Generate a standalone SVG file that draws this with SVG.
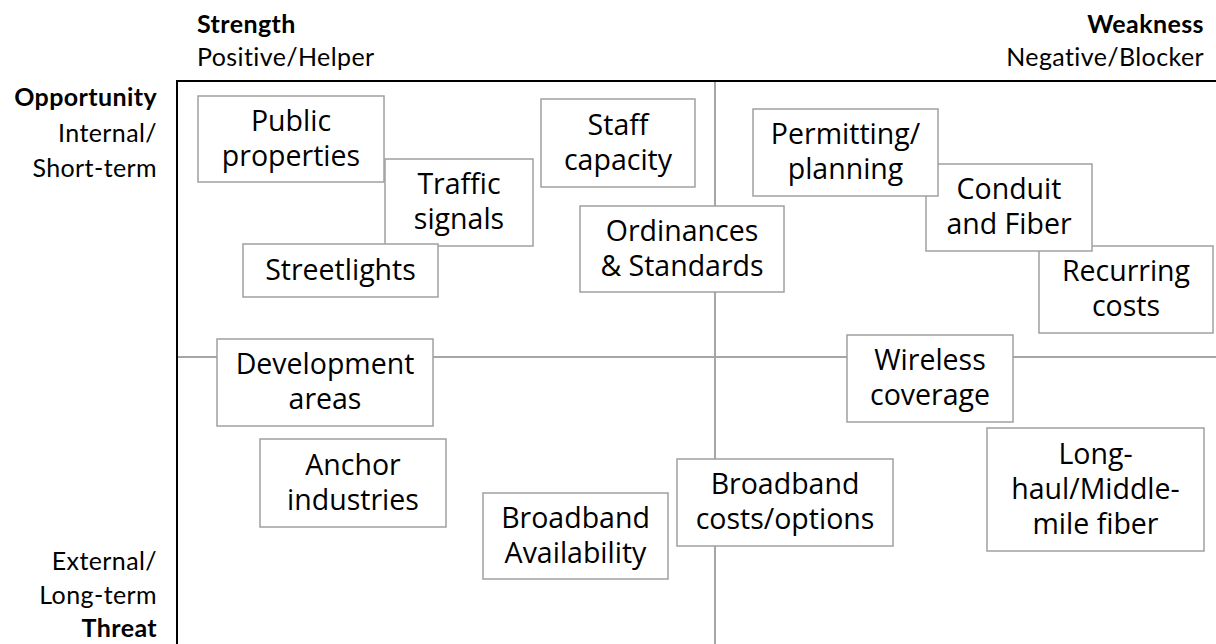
<svg xmlns="http://www.w3.org/2000/svg" width="1216" height="644" viewBox="0 0 1216 644">
<style>
.hdr{font-family:Lato,"Open Sans","Liberation Sans",sans-serif;font-size:25px;letter-spacing:0.4px;fill:#000}
.b{font-weight:bold}
.r{text-anchor:end}
.box{fill:#fff;stroke:#a0a0a0;stroke-width:1.5}
.t{font-family:"Open Sans","Liberation Sans",sans-serif;font-size:28.5px;fill:#000;text-anchor:middle}
.frame{stroke:#000;stroke-width:2;fill:none}
.axis{stroke:#a6a6a6;stroke-width:2;fill:none}
</style>
<rect width="1216" height="644" fill="#fff"/>
<g id="labels">
<text class="hdr b" x="197" y="33">Strength</text>
<text class="hdr" x="197" y="66">Positive/Helper</text>
<text class="hdr b r" x="1204" y="33">Weakness</text>
<text class="hdr r" x="1204" y="66">Negative/Blocker</text>
<text class="hdr b r" x="157" y="106">Opportunity</text>
<text class="hdr r" x="157" y="142">Internal/</text>
<text class="hdr r" x="157" y="177">Short-term</text>
<text class="hdr r" x="157" y="570">External/</text>
<text class="hdr r" x="157" y="604">Long-term</text>
<text class="hdr b r" x="157" y="637">Threat</text>
</g>
<g id="axes">
<line class="axis" x1="176" y1="357" x2="1216" y2="357"/>
<line class="axis" x1="715" y1="81" x2="715" y2="644"/>
<line class="frame" x1="176" y1="81" x2="1216" y2="81"/>
<line class="frame" x1="177" y1="80" x2="177" y2="644"/>
</g>
<g id="connectors"></g>
<g id="public-properties"><rect class="box" x="198" y="96" width="186" height="86"/><text class="t" x="291" y="131">Public</text><text class="t" x="291" y="166">properties</text></g>
<g id="traffic-signals"><rect class="box" x="385" y="159" width="148" height="87"/><text class="t" x="459" y="194">Traffic</text><text class="t" x="459" y="229">signals</text></g>
<g id="staff-capacity"><rect class="box" x="541" y="99" width="154" height="88"/><text class="t" x="618" y="135">Staff</text><text class="t" x="618" y="170">capacity</text></g>
<g id="streetlights"><rect class="box" x="243" y="244" width="195" height="53"/><text class="t" x="340.5" y="280">Streetlights</text></g>
<g id="ordinances-standards"><rect class="box" x="580" y="206" width="204" height="86"/><text class="t" x="682" y="241">Ordinances</text><text class="t" x="682" y="276">&amp; Standards</text></g>
<g id="recurring-costs"><rect class="box" x="1039" y="246" width="174" height="87"/><text class="t" x="1126" y="281">Recurring</text><text class="t" x="1126" y="316">costs</text></g>
<g id="conduit-fiber"><rect class="box" x="926" y="164" width="166" height="87"/><text class="t" x="1009" y="199">Conduit</text><text class="t" x="1009" y="234">and Fiber</text></g>
<g id="permitting-planning"><rect class="box" x="753" y="109" width="185" height="87"/><text class="t" x="845.5" y="144">Permitting/</text><text class="t" x="845.5" y="179">planning</text></g>
<g id="development-areas"><rect class="box" x="217" y="339" width="216" height="87"/><text class="t" x="325" y="374">Development</text><text class="t" x="325" y="409">areas</text></g>
<g id="wireless-coverage"><rect class="box" x="847" y="335" width="166" height="87"/><text class="t" x="930" y="370">Wireless</text><text class="t" x="930" y="405">coverage</text></g>
<g id="anchor-industries"><rect class="box" x="260" y="439" width="186" height="88"/><text class="t" x="353" y="475">Anchor</text><text class="t" x="353" y="510">industries</text></g>
<g id="broadband-availability"><rect class="box" x="483" y="493" width="185" height="86"/><text class="t" x="575.5" y="528">Broadband</text><text class="t" x="575.5" y="563">Availability</text></g>
<g id="broadband-costs"><rect class="box" x="677" y="459" width="216" height="87"/><text class="t" x="785" y="494">Broadband</text><text class="t" x="785" y="529">costs/options</text></g>
<g id="long-haul"><rect class="box" x="987" y="428" width="217" height="123"/><text class="t" x="1095.5" y="464">Long-</text><text class="t" x="1095.5" y="499">haul/Middle-</text><text class="t" x="1095.5" y="534">mile fiber</text></g>
</svg>
